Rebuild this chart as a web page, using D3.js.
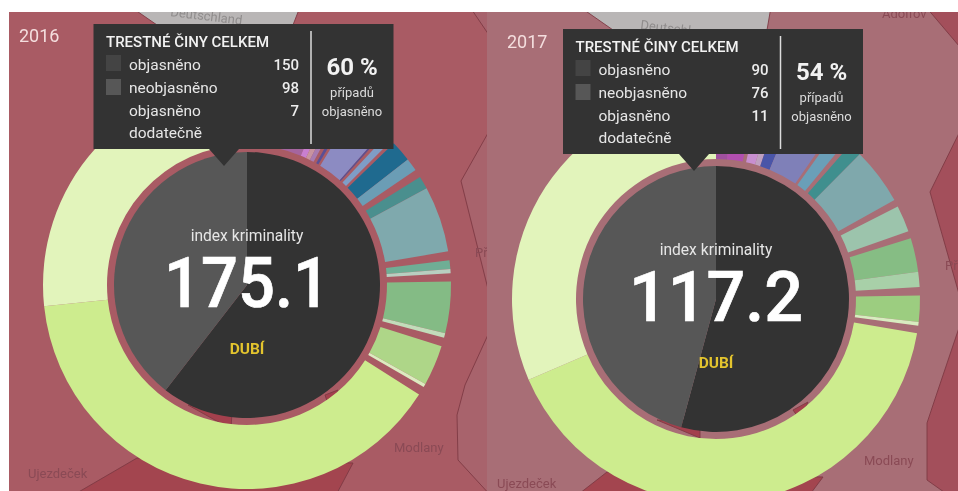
<!DOCTYPE html>
<html><head><meta charset="utf-8">
<script src="https://cdn.jsdelivr.net/npm/d3@7"></script>
<style>
html,body{margin:0;padding:0;background:#fff}
svg{display:block;filter:blur(.35px)}
text{font-family:Roboto,sans-serif}
</style></head><body>
<svg id="chart" width="958" height="491"></svg>
<script>
// ---- data ----
const years = ["2016", "2017"];
const indexValues = ["175.1", "117.2"];
const districtName = "DUBÍ";
const rowLabels = ["objasněno", "neobjasněno", "objasněno", "dodatečně"];
const solved = [150, 90];
const unsolved = [98, 76];
const solvedLater = [7, 11];
const solvedShare = ["60 %", "54 %"];

// ring shares per crime category (null colour = separator between categories)
const ring2016 = [22.6,2.3,1.8,1.7,1.2,1,0.9,10,0.5,1,2,1,6,3.7,2.3,3.7,18.8,2.5,2.5,1.2,2.3,14.7,1.3,2.5,11.5,1,2.5,141.5,96];
const ringColors2016 = ["#a5659f","#c97fd0","#c8939f","#a87bb0",null,"#5a4f95",null,"#8c8bc2","#5b4f90",null,"#7f9dc6",null,"#1f6a8f","#6b9db5",null,"#4a8f8e","#7fa9ad",null,"#6fae95","#b8cfc0",null,"#84bb85","#c2dcba",null,"#aed688","#dcebc0",null,"#cdec8e","#e2f4bb"];
const ring2017 = [4.5,6.5,1.4,3.8,2.2,4.1,12,1,4,1.5,3.8,16.2,2,7.6,2.1,9.6,4.3,2.4,7.5,1,2.2,147,113.3];
const ringColors2017 = ["#a0509f","#b24fb0",null,"#c88fd0","#bfa0c0","#4a55a8","#7f80b8",null,"#6a9fb8",null,"#3f8f8e","#7fa8ac",null,"#9cc4ac",null,"#86bd84","#a8d0a8",null,"#9ccd80","#d8ecc0",null,"#cdec8e","#e2f4bb"];

// ---- map backdrop shapes ----
const mapLeft = {
  rect:[9,12,478,479], base:"#a95b64",
  shapes:[
    {fill:"#b9b6b6",pts:[[131,7],[157,25],[293,25],[300,7]]},
    {fill:"#a7626c",pts:[[470,7],[495,7],[495,44]]},
    {fill:"#a8636c",pts:[[492,126],[461,181],[492,305],[492,126]]},
    {fill:"#a8636c",pts:[[492,326],[465,385],[457,415],[458,460],[492,497]]},
    {fill:"#a3454f",pts:[[137,458],[70,497],[335,497],[353,463]]},
    {fill:"#a3404d",pts:[[188,405],[231,429],[232,412]]},
    {fill:"#a3404d",pts:[[325,395],[338,390],[330,410]]}
  ],
  labels:[
    {t:"Ujezdeček",x:28,y:478},{t:"Modlany",x:394,y:452},{t:"Př",x:475,y:257},
    {t:"Deutschland",x:170,y:16,r:7,grey:true}
  ]
};
const mapRight = {
  rect:[487,12,471,479], base:"#a86e76",
  shapes:[
    {fill:"#b9b6b6",pts:[[580,7],[613,30],[767,30],[771,7]]},
    {fill:"#a34f5b",pts:[[926,7],[965,7],[965,53]]},
    {fill:"#a34f5b",pts:[[965,121],[930,192],[965,315]]},
    {fill:"#a34f5b",pts:[[965,310],[937,393],[927,423],[927,480],[951,497],[965,497]]},
    {fill:"#a3454f",pts:[[607,472],[575,497],[808,497],[823,477]]},
    {fill:"#a3404d",pts:[[657,420],[700,438],[700,420]]},
    {fill:"#a3404d",pts:[[793,410],[808,402],[800,420]]}
  ],
  labels:[
    {t:"Ujezdeček",x:497,y:488},{t:"Modlany",x:864,y:465},{t:"Př",x:945,y:270},
    {t:"Adolfov",x:882,y:18},{t:"Deutschl",x:640,y:29,r:7,grey:true}
  ]
};

// ---- layout ----
const panels = [
  {i:0, map:mapLeft, cx:247, cy:285, tipX:224, boxX:93.5, boxY:24, yearX:19, yearY:42, ring:ring2016, colors:ringColors2016, valueW:166},
  {i:1, map:mapRight, cx:716, cy:299, tipX:694, boxX:563, boxY:29, yearX:507, yearY:48, ring:ring2017, colors:ringColors2017, valueW:174}
];
const R = {pie:133, ringIn:140, ringOut:204};
const boxW = 300, boxH = 125;

const svg = d3.select("#chart");
const line = d3.line();
const defs = svg.append("defs");

panels.forEach(p => {
  const [rx,ry,rw,rh] = p.map.rect;
  defs.append("clipPath").attr("id","clip"+p.i).append("rect")
    .attr("x",rx).attr("y",ry).attr("width",rw).attr("height",rh);
  const g = svg.append("g").attr("clip-path",`url(#clip${p.i})`);

  // backdrop
  g.append("rect").attr("x",rx).attr("y",ry).attr("width",rw).attr("height",rh).attr("fill",p.map.base);
  g.selectAll("path.shape").data(p.map.shapes).join("path").attr("class","shape")
    .attr("d",d=>line(d.pts)+"Z").attr("fill",d=>d.fill)
    .attr("stroke","#7e3a44").attr("stroke-width",0.9);
  g.selectAll("text.place").data(p.map.labels).join("text").attr("class","place")
    .attr("transform",d=>`translate(${d.x},${d.y}) rotate(${d.r||0})`)
    .attr("font-size",13).attr("fill",d=>d.grey?"#8f8c8c":"#8a4a55").text(d=>d.t);

  const c = g.append("g").attr("transform",`translate(${p.cx},${p.cy})`);

  // outer ring
  const pie = d3.pie().sort(null).value(d=>d.v);
  const arcRing = d3.arc().innerRadius(R.ringIn).outerRadius(R.ringOut);
  const rows = p.ring.map((v,k)=>({v,color:p.colors[k]}));
  c.selectAll("path.seg").data(pie(rows)).join("path").attr("class","seg")
    .attr("d",arcRing).attr("fill",d=>d.data.color||"none");

  // inner pie
  const arcPie = d3.arc().innerRadius(0).outerRadius(R.pie);
  const inner = [{v:solved[p.i],color:"#333333"},{v:unsolved[p.i],color:"#575757"}];
  c.selectAll("path.core").data(pie(inner)).join("path").attr("class","core")
    .attr("d",arcPie).attr("fill",d=>d.data.color);

  // centre labels
  c.append("text").attr("y",-44).attr("text-anchor","middle").attr("font-size",15.6).attr("fill","#e6e6e6").text("index kriminality");
  c.append("text").attr("y",22).attr("text-anchor","middle").attr("font-size",70).attr("font-weight",500)
    .attr("stroke","#fff").attr("stroke-width",0.7).attr("fill","#fff")
    .attr("textLength",p.valueW).attr("lengthAdjust","spacingAndGlyphs").text(indexValues[p.i]);
  c.append("text").attr("y",69).attr("text-anchor","middle").attr("font-size",15.5).attr("font-weight",700).attr("fill","#e3c42e").text(districtName);

  // year
  g.append("text").attr("x",p.yearX).attr("y",p.yearY).attr("font-size",18).attr("font-family","'Open Sans',sans-serif").attr("fill","#f4dede").text(years[p.i]);

  // tooltip
  const t = g.append("g").attr("transform",`translate(${p.boxX},${p.boxY})`);
  const tip = p.tipX - p.boxX;
  t.append("path").attr("fill","#333333")
    .attr("d",line([[0,0],[boxW,0],[boxW,boxH],[tip+15,boxH],[tip,boxH+17],[tip-15,boxH],[0,boxH]])+"Z");
  t.append("text").attr("x",12.5).attr("y",23).attr("font-size",15.5).attr("font-weight",500).attr("fill","#f2f2f2")
    .attr("textLength",163).attr("lengthAdjust","spacingAndGlyphs").text("TRESTNÉ ČINY CELKEM");
  t.append("rect").attr("x",12.5).attr("y",31).attr("width",15).attr("height",16).attr("fill","#444444");
  t.append("rect").attr("x",12.5).attr("y",55).attr("width",15).attr("height",16).attr("fill","#575757");
  const rowY = [46,69,92,114];
  t.selectAll("text.rl").data(rowLabels).join("text").attr("class","rl")
    .attr("x",35.5).attr("y",(d,k)=>rowY[k]).attr("font-size",15.5).attr("fill","#e6e6e6").text(d=>d);
  const nums = [solved[p.i],unsolved[p.i],solvedLater[p.i]];
  t.selectAll("text.rv").data(nums).join("text").attr("class","rv")
    .attr("x",205.5).attr("y",(d,k)=>rowY[k]).attr("text-anchor","end").attr("font-size",15).attr("font-weight",500).attr("fill","#ededed").text(d=>d);
  t.append("line").attr("x1",217.5).attr("x2",217.5).attr("y1",7).attr("y2",120).attr("stroke","#dddddd").attr("stroke-width",1.5);
  t.append("text").attr("x",258.5).attr("y",51).attr("text-anchor","middle").attr("font-size",24).attr("font-weight",700).attr("fill","#f2f2f2").text(solvedShare[p.i]);
  t.append("text").attr("x",258.5).attr("y",73).attr("text-anchor","middle").attr("font-size",13).attr("fill","#dcdcdc").text("případů");
  t.append("text").attr("x",258.5).attr("y",92).attr("text-anchor","middle").attr("font-size",13).attr("fill","#dcdcdc").text("objasněno");
});
</script>
</body></html>
